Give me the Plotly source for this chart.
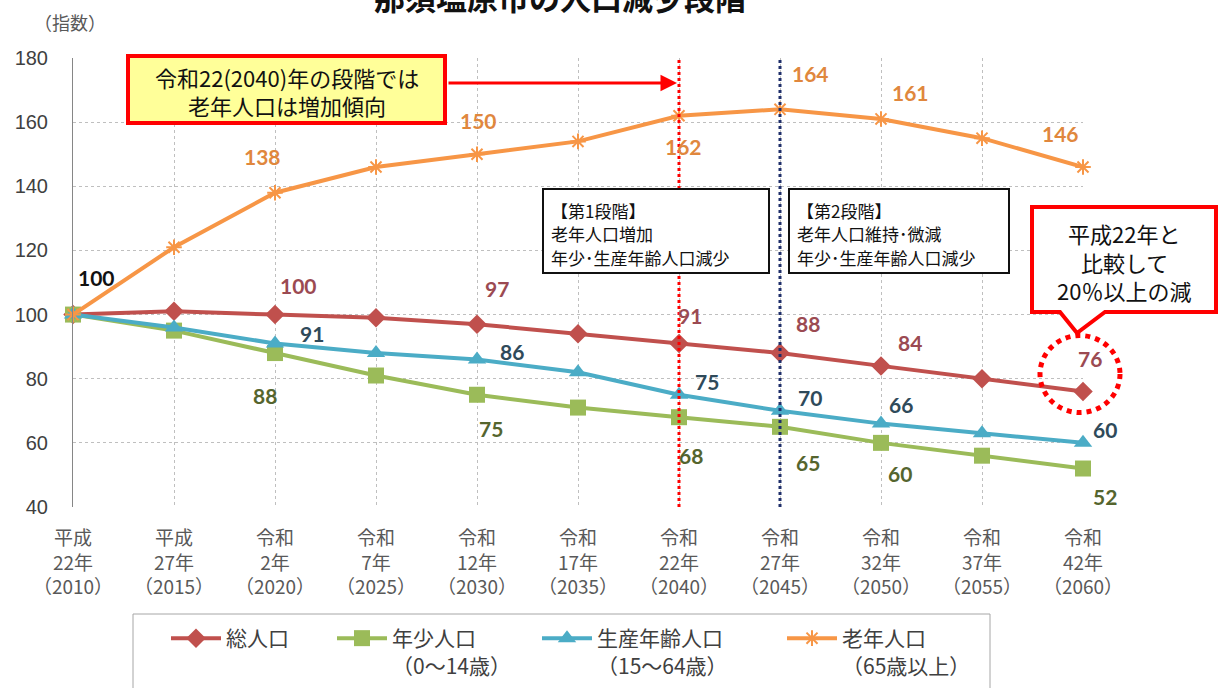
import plotly.graph_objects as go

# ---- data -------------------------------------------------------------
years = [2010, 2015, 2020, 2025, 2030, 2035, 2040, 2045, 2050, 2055, 2060]
era_labels = ["平成<br>22年<br>（2010）", "平成<br>27年<br>（2015）", "令和<br>2年<br>（2020）",
              "令和<br>7年<br>（2025）", "令和<br>12年<br>（2030）", "令和<br>17年<br>（2035）",
              "令和<br>22年<br>（2040）", "令和<br>27年<br>（2045）", "令和<br>32年<br>（2050）",
              "令和<br>37年<br>（2055）", "令和<br>42年<br>（2060）"]

total_pop = [100, 101, 100, 99, 97, 94, 91, 88, 84, 80, 76]
young_pop = [100, 95, 88, 81, 75, 71, 68, 65, 60, 56, 52]
working_pop = [100, 96, 91, 88, 86, 82, 75, 70, 66, 63, 60]
elderly_pop = [100, 121, 138, 146, 150, 154, 162, 164, 161, 155, 146]

y_min, y_max = 40, 180

stage1_lines = ["【第1段階】", "老年人口増加", "年少･生産年齢人口減少"]
stage2_lines = ["【第2段階】", "老年人口維持･微減", "年少･生産年齢人口減少"]
yellow_lines = ["令和22(2040)年の段階では", "老年人口は増加傾向"]
callout_lines = ["平成22年と", "比較して", "20％以上の減"]

# which points get a value label: (year index, x shift px, y shift px)
total_labels = [(2, 23, 29), (4, 20, 36), (6, 11, 28), (7, 28, 30), (8, 29, 23), (10, 7, 33)]
young_labels = [(2, -10, -42), (4, 14, -34), (6, 12, -38), (7, 28, -36), (8, 19, -31), (10, 22, -28)]
working_labels = [(2, 37, 10), (4, 35, 8), (6, 28, 13), (7, 30, 13), (8, 20, 19), (10, 22, 13)]
elderly_labels = [(2, -13, 36), (4, 1, 34), (6, 4, -31), (7, 30, 36), (8, 29, 26), (10, -23, 34)]

# ---- layout geometry (pixels) -----------------------------------------
W, H = 1218, 688
L, R, T, B = 73, 1083, 58, 507


def px(x):
    return (x - L) / (R - L)


def py(y):
    return (B - y) / (B - T)


JP = "Noto Sans CJK JP"
NUM = "Lato"

fig = go.Figure()

# name, values, line colour, marker, labels, label colour, legend id, legend text start (px)
series = [
    ("総人口", total_pop, "#C0504D", dict(symbol="diamond", size=15), total_labels, "#9B4A52", "legend", 227),
    ("年少人口<br>（0～14歳）", young_pop, "#9BBB59", dict(symbol="square", size=16), young_labels, "#55652E",
     "legend2", 393),
    ("生産年齢人口<br>（15～64歳）", working_pop, "#4BACC6", dict(symbol="triangle-up", size=16), working_labels,
     "#2F4A5A", "legend3", 598),
    ("老年人口<br>（65歳以上）", elderly_pop, "#F79646",
     dict(symbol="asterisk-open", size=13, line=dict(width=2, color="#E46C0A")), elderly_labels, "#E0873D",
     "legend4", 843),
]

legends = {}
for name, vals, color, marker, labels, lcolor, leg, text_x in series:
    fig.add_trace(go.Scatter(
        x=years, y=vals, mode="lines+markers", name=name, legend=leg, showlegend=True,
        line=dict(color=color, width=4),
        marker=dict(color=color, **marker),
        cliponaxis=False,
    ))
    legends[leg] = dict(orientation="h", x=px(text_x - 61), y=py(618), xanchor="left", yanchor="top",
                        bgcolor="rgba(0,0,0,0)", valign="top", itemwidth=50,
                        font=dict(family=JP, size=21, color="#404040"))
    for i, dx, dy in labels:
        fig.add_annotation(x=years[i], y=vals[i], text=str(vals[i]), showarrow=False,
                           xshift=dx, yshift=dy, xanchor="center", yanchor="middle",
                           font=dict(family=NUM, size=21, color=lcolor, weight="bold"))

# base year label
fig.add_annotation(x=years[0], y=total_pop[0], text="100", showarrow=False, xshift=23, yshift=37,
                   xanchor="center", yanchor="middle",
                   font=dict(family=NUM, size=21, color="#111111", weight="bold"))

# stage boundary lines
fig.add_vline(x=2040, line=dict(color="#FF0000", width=3, dash="dot"))
fig.add_vline(x=2045, line=dict(color="#1F2F6B", width=3, dash="dot"))

# yellow callout + arrow
fig.add_shape(type="rect", xref="paper", yref="paper", x0=px(128), x1=px(445), y0=py(123), y1=py(56),
              line=dict(color="#FF0000", width=4), fillcolor="#FFFF99", layer="above")
for k, line_txt in enumerate(yellow_lines):
    fig.add_annotation(xref="paper", yref="paper", x=px(287), y=py(77 + 28 * k), showarrow=False,
                       xanchor="center", yanchor="middle", text=line_txt,
                       font=dict(family=JP, size=22, color="#111111"))
fig.add_annotation(xref="paper", yref="paper", x=px(677), y=py(83), ax=-230, ay=0,
                   axref="pixel", ayref="pixel", text="", showarrow=True,
                   arrowhead=2, arrowsize=1.1, arrowwidth=3, arrowcolor="#FF0000")

# stage boxes
for x0, x1, lines in [(543, 769, stage1_lines), (789, 1009, stage2_lines)]:
    fig.add_shape(type="rect", xref="paper", yref="paper", x0=px(x0), x1=px(x1), y0=py(273), y1=py(189),
                  line=dict(color="#111111", width=2), fillcolor="white", layer="above")
    for k, line_txt in enumerate(lines):
        fig.add_annotation(xref="paper", yref="paper", x=px(x0 + 6), y=py(210 + 23.5 * k),
                           xanchor="left", yanchor="middle", showarrow=False, text=line_txt,
                           font=dict(family=JP, size=17, color="#111111"))

# red callout with tail
path = "M {a},{t} L {b},{t} L {b},{bt} L {c},{bt} L {d},{tip} L {e},{bt} L {a},{bt} Z".format(
    a=px(1032), b=px(1216), t=py(207), bt=py(312), c=px(1105), d=px(1077), tip=py(333), e=px(1060))
fig.add_shape(type="path", xref="paper", yref="paper", path=path,
              line=dict(color="#FF0000", width=4), fillcolor="white", layer="above")
for k, line_txt in enumerate(callout_lines):
    fig.add_annotation(xref="paper", yref="paper", x=px(1124), y=py(233 + 28.5 * k), showarrow=False,
                       xanchor="center", yanchor="middle", text=line_txt,
                       font=dict(family=JP, size=22, color="#111111"))

# dotted circle round the 2060 total value (2060 sits on the right edge of the plot)
fig.add_shape(type="circle", xref="paper", yref="paper", xsizemode="pixel", ysizemode="pixel",
              xanchor=1, yanchor=(total_pop[-1] - y_min) / (y_max - y_min),
              x0=-43, x1=37, y0=-21, y1=56,
              line=dict(color="#FF0000", width=5, dash="dot"), layer="above")

# legend frame
fig.add_shape(type="rect", xref="paper", yref="paper", x0=px(133), x1=px(990), y0=py(700), y1=py(614),
              line=dict(color="#A6A6A6", width=1), fillcolor="rgba(0,0,0,0)")

# title (cut off at the top of the picture) and y unit
fig.add_annotation(xref="paper", yref="paper", x=px(560), y=py(-3), showarrow=False,
                   xanchor="center", yanchor="middle",
                   text="那須塩原市の人口減少段階",
                   font=dict(family=JP, size=31, color="#111111", weight="bold"))
fig.add_annotation(xref="paper", yref="paper", x=px(70), y=py(22), showarrow=False,
                   xanchor="center", yanchor="middle",
                   text="（指数）", font=dict(family=JP, size=18, color="#595959"))

fig.update_xaxes(range=[2010, 2060], tickvals=years, ticktext=era_labels,
                 showgrid=True, gridcolor="#BFBFBF", griddash="dot", gridwidth=1,
                 showline=False, zeroline=False, ticks="", ticklabelstandoff=18, automargin=False,
                 tickfont=dict(family=JP, size=19, color="#595959"))
fig.update_yaxes(range=[y_min, y_max], dtick=20, showgrid=True, gridcolor="#BFBFBF", griddash="dot",
                 gridwidth=1, zeroline=False, showline=True, linecolor="#868686", linewidth=1,
                 ticks="", ticklabelstandoff=20, automargin=False,
                 tickfont=dict(family="Liberation Sans", size=20, color="#404040"))

fig.update_layout(
    width=W, height=H,
    margin=dict(l=L, r=W - R, t=T, b=H - B, autoexpand=False),
    plot_bgcolor="white", paper_bgcolor="white",
    font=dict(family=JP),
    showlegend=True,
    **legends,
)

fig.write_html("out.html", config={"displayModeBar": False},
               post_script="document.body.style.margin='0';")
